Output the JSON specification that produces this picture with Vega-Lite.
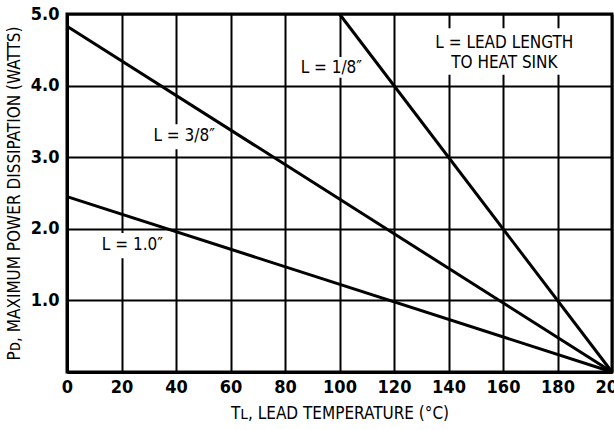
{
  "$schema": "https://vega.github.io/schema/vega-lite/v6.json",
  "width": 545,
  "height": 358,
  "autosize": {"type": "none"},
  "padding": {"left": 67, "top": 14, "right": 2, "bottom": 58},
  "background": "white",
  "config": {
    "view": {"stroke": "black", "strokeWidth": 3},
    "font": "Liberation Sans Narrow, DejaVu Sans Condensed, sans-serif",
    "axis": {
      "domainColor": "black", "domainWidth": 3,
      "gridColor": "black", "gridWidth": 2, "gridOpacity": 1,
      "ticks": false,
      "labelFont": "Liberation Sans Narrow, DejaVu Sans Condensed, sans-serif",
      "labelFontSize": 18, "labelFontWeight": "bold", "labelColor": "black",
      "titleFont": "Liberation Sans Narrow, DejaVu Sans Condensed, sans-serif",
      "titleFontSize": 17, "titleFontWeight": "normal", "titleColor": "black"
    }
  },
  "datasets": {
    "curves": [
      {"series": "L = 1/8\u2033", "t": 100, "p": 5.0},
      {"series": "L = 1/8\u2033", "t": 200, "p": 0.0},
      {"series": "L = 3/8\u2033", "t": 0, "p": 4.83},
      {"series": "L = 3/8\u2033", "t": 200, "p": 0.0},
      {"series": "L = 1.0\u2033", "t": 0, "p": 2.45},
      {"series": "L = 1.0\u2033", "t": 200, "p": 0.0}
    ],
    "labels": [
      {"text": "L = 1/8\u2033", "x": 97, "y": 4.24, "bx1": 84, "bx2": 110, "by1": 4.11, "by2": 4.40},
      {"text": "L = 3/8\u2033", "x": 43, "y": 3.29, "bx1": 29, "bx2": 57, "by1": 3.11, "by2": 3.46},
      {"text": "L = 1.0\u2033", "x": 24, "y": 1.77, "bx1": 10, "bx2": 38, "by1": 1.59, "by2": 1.94},
      {"text": "L = LEAD LENGTH", "x": 160.5, "y": 4.6, "bx1": 132.5, "bx2": 189, "by1": 4.15, "by2": 4.8},
      {"text": "TO HEAT SINK", "x": 160.5, "y": 4.31}
    ]
  },
  "layer": [
    {
      "data": {"name": "labels"},
      "transform": [{"filter": "datum.bx1 != null"}],
      "mark": {"type": "rect", "color": "white"},
      "encoding": {
        "x": {"field": "bx1", "type": "quantitative", "scale": {"domain": [0, 200], "nice": false}},
        "x2": {"field": "bx2"},
        "y": {"field": "by1", "type": "quantitative", "scale": {"domain": [0, 5], "nice": false}},
        "y2": {"field": "by2"}
      }
    },
    {
      "data": {"name": "curves"},
      "mark": {"type": "line", "color": "black", "strokeWidth": 3},
      "encoding": {
        "x": {
          "field": "t", "type": "quantitative",
          "scale": {"domain": [0, 200], "nice": false},
          "axis": {
            "values": [0, 20, 40, 60, 80, 100, 120, 140, 160, 180, 200],
            "labelPadding": 6, "labelFlush": false, "labelOverlap": false,
            "title": "T\u029F, LEAD TEMPERATURE (\u00B0C)", "titlePadding": 9
          }
        },
        "y": {
          "field": "p", "type": "quantitative",
          "scale": {"domain": [0, 5], "nice": false},
          "axis": {
            "values": [0, 0.5, 1, 1.5, 2, 2.5, 3, 3.5, 4, 4.5, 5],
            "labelExpr": "datum.value >= 1 && datum.value % 1 == 0 ? format(datum.value, '.1f') : ''",
            "labelPadding": 8, "labelFlush": false, "labelOverlap": false,
            "title": "P\u1D05, MAXIMUM POWER DISSIPATION (WATTS)", "titlePadding": 7
          }
        },
        "detail": {"field": "series"}
      }
    },
    {
      "data": {"name": "labels"},
      "mark": {"type": "text", "color": "black", "fontSize": 17, "align": "center", "baseline": "middle"},
      "encoding": {
        "x": {"field": "x", "type": "quantitative"},
        "y": {"field": "y", "type": "quantitative"},
        "text": {"field": "text"}
      }
    }
  ]
}
